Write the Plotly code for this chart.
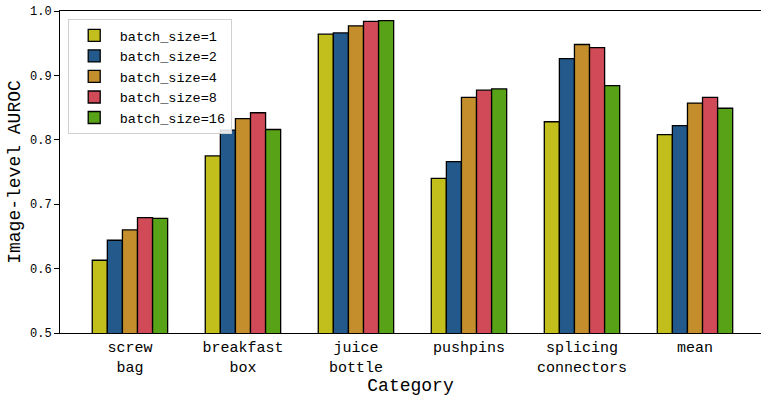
import plotly.graph_objects as go

categories = ["screw<br>bag", "breakfast<br>box", "juice<br>bottle", "pushpins", "splicing<br>connectors", "mean"]
series_names = ["batch_size=1", "batch_size=2", "batch_size=4", "batch_size=8", "batch_size=16"]
bs1 = [0.613, 0.775, 0.964, 0.740, 0.828, 0.808]
bs2 = [0.644, 0.815, 0.966, 0.766, 0.926, 0.822]
bs4 = [0.660, 0.833, 0.977, 0.866, 0.948, 0.857]
bs8 = [0.679, 0.842, 0.984, 0.877, 0.943, 0.866]
bs16 = [0.678, 0.816, 0.985, 0.879, 0.884, 0.849]
colors = ["#c2be1c", "#235a8b", "#c38e2b", "#d04a58", "#57a216"]
y_ticks = [0.5, 0.6, 0.7, 0.8, 0.9, 1.0]

MONO = "Liberation Mono"
fig = go.Figure()
for name, vals, c in zip(series_names, [bs1, bs2, bs4, bs8, bs16], colors):
    fig.add_trace(go.Bar(
        name=name, x=list(range(len(categories))), y=vals,
        marker=dict(color=c, line=dict(color="black", width=1.3)),
    ))

fig.update_layout(
    width=761, height=400,
    margin=dict(l=60, r=0, t=11, b=67),
    paper_bgcolor="white", plot_bgcolor="white",
    barmode="group", bargap=0.333, bargroupgap=0,
    font=dict(family=MONO, color="black"),
    showlegend=True,
    legend=dict(
        x=0.011, y=0.975, xanchor="left", yanchor="top",
        bgcolor="rgba(255,255,255,0.85)", bordercolor="#d0d0d0", borderwidth=1,
        font=dict(family=MONO, size=13.5, color="black"),
        tracegroupgap=0, itemwidth=41,
    ),
    xaxis=dict(
        range=[-0.619, 5.584],
        tickmode="array", tickvals=list(range(len(categories))), ticktext=categories,
        ticks="", showline=True, linecolor="black", linewidth=1, mirror=True,
        showgrid=False, zeroline=False,
        tickfont=dict(family=MONO, size=15, color="black"),
        title=dict(text="Category", font=dict(family=MONO, size=18, color="black"), standoff=0),
    ),
    yaxis=dict(
        range=[0.5, 1.0],
        tickmode="array", tickvals=y_ticks, ticktext=[f"{v:.1f}" for v in y_ticks],
        ticks="outside", ticklen=5, tickcolor="black",
        showline=True, linecolor="black", linewidth=1, mirror=False,
        showgrid=False, zeroline=False, ticklabeloverflow="allow",
        tickfont=dict(family=MONO, size=12, color="black"),
        title=dict(text="Image-level AUROC", font=dict(family=MONO, size=18, color="black"), standoff=4),
    ),
)

fig.write_html("out.html", config={"displayModeBar": False},
               post_script="document.body.style.margin='0';")
